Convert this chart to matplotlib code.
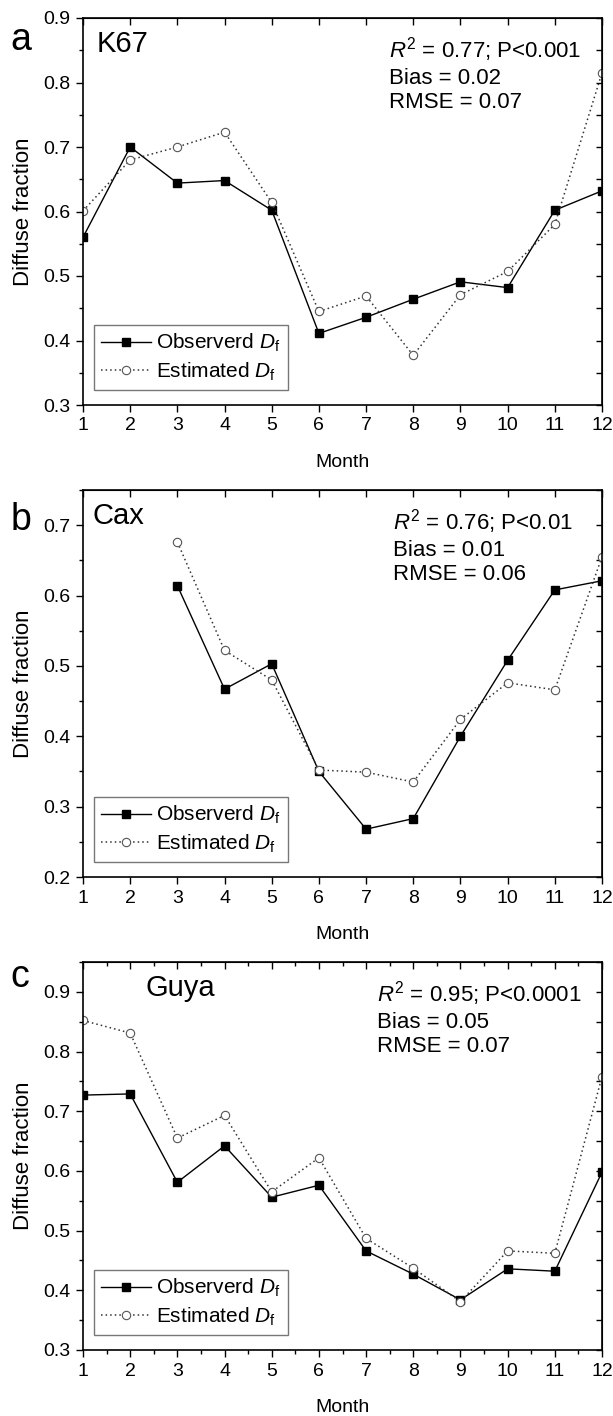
import matplotlib
matplotlib.use("Agg")
import matplotlib.pyplot as plt
from matplotlib.ticker import MultipleLocator, NullFormatter

plt.rcParams['font.family'] = ['Liberation Sans', 'DejaVu Sans']
plt.rcParams['mathtext.fontset'] = 'custom'
plt.rcParams['mathtext.rm'] = 'Liberation Sans'
plt.rcParams['mathtext.it'] = 'Liberation Sans:italic'

months = list(range(1, 13))

# K67
k67_obs = [0.560, 0.700, 0.644, 0.648, 0.602, 0.411, 0.436, 0.464, 0.491, 0.482, 0.602, 0.632]
k67_est = [0.601, 0.680, 0.700, 0.723, 0.614, 0.445, 0.469, 0.377, 0.471, 0.507, 0.580, 0.815]

# Cax (no data for Jan-Feb)
cax_months = list(range(3, 13))
cax_obs = [0.614, 0.467, 0.503, 0.350, 0.268, 0.283, 0.400, 0.508, 0.608, 0.621]
cax_est = [0.676, 0.522, 0.480, 0.352, 0.349, 0.335, 0.424, 0.476, 0.466, 0.655]

# Guya
guya_obs = [0.727, 0.729, 0.581, 0.642, 0.556, 0.576, 0.466, 0.427, 0.384, 0.436, 0.432, 0.598]
guya_est = [0.852, 0.831, 0.655, 0.693, 0.565, 0.622, 0.487, 0.437, 0.381, 0.466, 0.462, 0.758]

W, H = 613, 1416
panels = [
    dict(letter='a', site='K67', x=months, obs=k67_obs, est=k67_est, ylim=(0.3, 0.9),
         stats=['$R^2$ = 0.77; P<0.001', 'Bias = 0.02', 'RMSE = 0.07'],
         top=18, bottom=405, site_x=0.027, stats_x=0.59, letter_y=0.917, minor_x=False),
    dict(letter='b', site='Cax', x=cax_months, obs=cax_obs, est=cax_est, ylim=(0.2, 0.75),
         stats=['$R^2$ = 0.76; P<0.01', 'Bias = 0.01', 'RMSE = 0.06'],
         top=490, bottom=877, site_x=0.019, stats_x=0.597, letter_y=0.897, minor_x=False),
    dict(letter='c', site='Guya', x=months, obs=guya_obs, est=guya_est, ylim=(0.3, 0.95),
         stats=['$R^2$ = 0.95; P<0.0001', 'Bias = 0.05', 'RMSE = 0.07'],
         top=962, bottom=1350, site_x=0.121, stats_x=0.566, letter_y=0.935, minor_x=True),
]

fig = plt.figure(figsize=(W / 100, H / 100), dpi=100)

for p in panels:
    rect = [83 / W, 1 - p['bottom'] / H, 519 / W, (p['bottom'] - p['top']) / H]
    ax = fig.add_axes(rect)
    ax.plot(p['x'], p['obs'], '-', color='black', lw=1.0, marker='s', ms=5.5,
            mfc='black', mec='black', label='Observerd $D_\\mathrm{f}$')
    ax.plot(p['x'], p['est'], linestyle=(0, (1, 2)), color='#333333', lw=1.1, marker='o', ms=6,
            mfc='white', mec='#555555', mew=0.8, label='Estimated $D_\\mathrm{f}$')
    ax.set_xlim(1, 12)
    ax.set_ylim(*p['ylim'])
    ax.xaxis.set_major_locator(MultipleLocator(1))
    ax.yaxis.set_major_locator(MultipleLocator(0.1))
    ax.yaxis.set_minor_locator(MultipleLocator(0.05))
    if p['minor_x']:
        ax.xaxis.set_minor_locator(MultipleLocator(0.5))
    ax.tick_params(axis='both', which='major', labelsize=14, length=5, width=1,
                   direction='out', pad=4)
    ax.tick_params(axis='both', which='minor', length=3, width=1, direction='out')
    for spine in ax.spines.values():
        spine.set_linewidth(1.2)

    # top and right ticks point inward
    top = ax.secondary_xaxis('top')
    top.xaxis.set_major_locator(MultipleLocator(1))
    if p['minor_x']:
        top.xaxis.set_minor_locator(MultipleLocator(0.5))
    top.xaxis.set_major_formatter(NullFormatter())
    top.tick_params(which='major', direction='in', length=5, width=1)
    top.tick_params(which='minor', direction='in', length=3, width=1)
    right = ax.secondary_yaxis('right')
    right.yaxis.set_major_locator(MultipleLocator(0.1))
    right.yaxis.set_minor_locator(MultipleLocator(0.05))
    right.yaxis.set_major_formatter(NullFormatter())
    right.tick_params(which='major', direction='in', length=4, width=1)
    right.tick_params(which='minor', direction='in', length=4, width=1)

    ax.set_xlabel('Month', fontsize=14, labelpad=14)
    ax.set_ylabel('Diffuse fraction', fontsize=16, labelpad=7)
    ax.text(p['site_x'], 0.968, p['site'], transform=ax.transAxes, fontsize=21,
            va='top', ha='left')
    ax.text(p['stats_x'], 0.955, '\n'.join(p['stats']), transform=ax.transAxes, fontsize=16,
            va='top', ha='left', linespacing=1.2)
    ax.text(-0.14, p['letter_y'], p['letter'], transform=ax.transAxes, fontsize=27,
            va='baseline', ha='left')
    leg = ax.legend(loc='lower left', fontsize=15, frameon=True, fancybox=False,
                    edgecolor='#555555', handlelength=2.4, handletextpad=0.25,
                    borderpad=0.35, labelspacing=0.3, borderaxespad=0,
                    bbox_to_anchor=(0.021, 0.038))
    leg.get_frame().set_linewidth(1.0)

fig.savefig('out.png', dpi=100)
